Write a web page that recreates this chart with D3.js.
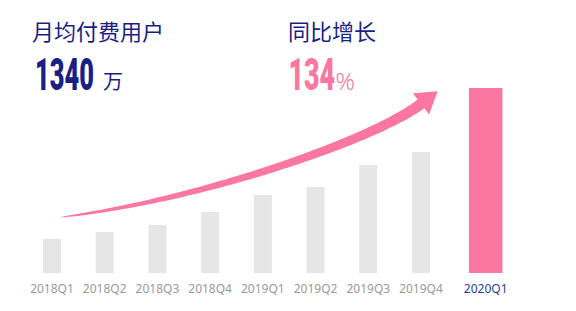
<!DOCTYPE html>
<html><head><meta charset="utf-8">
<script src="https://cdn.jsdelivr.net/npm/d3@7/dist/d3.min.js"></script>
<style>html,body{margin:0;padding:0;background:#fff;}svg{display:block;}</style>
</head><body>
<svg id="chart" width="576" height="311"></svg>
<script>
const categories = ["2018Q1","2018Q2","2018Q3","2018Q4","2019Q1","2019Q2","2019Q3","2019Q4","2020Q1"];
const values = [246, 297, 348, 442, 565, 623, 782, 877, 1340];
const highlightCategory = "2020Q1";
const titleLeft = "月均付费用户", valueLeft = "1340", unitLeft = "万";
const titleRight = "同比增长", valueRight = "134", unitRight = "%";

const navy = "#1a1f86", pink = "#fb76a0", gray = "#e6e6e6";
const svg = d3.select("#chart");
const cjk = "'Noto Sans CJK SC','Noto Sans',sans-serif";

const baseY = 273, topY = 88;
const y = d3.scaleLinear().domain([0, 1340]).range([baseY, topY]);
const xIdx = d3.scaleLinear().domain([0, 7]).range([52, 421]);
const xc = (d, i) => d === highlightCategory ? xIdx(i) + 12 : xIdx(i);
const bw = d => d === highlightCategory ? 33.5 : 18;

const data = categories.map((c, i) => ({c, v: values[i], i}));

svg.selectAll("rect.bar").data(data).join("rect")
  .attr("class","bar")
  .attr("x", d => xc(d.c, d.i) - bw(d.c)/2)
  .attr("width", d => bw(d.c))
  .attr("y", d => y(d.v))
  .attr("height", d => baseY - y(d.v))
  .attr("fill", d => d.c === highlightCategory ? pink : gray);

svg.selectAll("text.lab").data(data).join("text")
  .attr("class","lab")
  .attr("x", d => xc(d.c, d.i))
  .attr("y", 292.5)
  .attr("text-anchor","middle")
  .attr("font-family", "'Noto Sans',sans-serif")
  .attr("font-size", 12)
  .attr("fill", d => d.c === highlightCategory ? "#1f3f9c" : "#9a9a9a")
  .text(d => d.c);

// Arrow (decorative tapered curve)
const P0=[60,217.3], C1=[200,200.2], C2=[374.2,139.8], P3=[421.8,103.3];
function bez(t){
  const a=(1-t)**3, b=3*(1-t)**2*t, c=3*(1-t)*t*t, e=t**3;
  return [a*P0[0]+b*C1[0]+c*C2[0]+e*P3[0], a*P0[1]+b*C1[1]+c*C2[1]+e*P3[1]];
}
function der(t){
  const a=-3*(1-t)**2, b=3*(1-t)**2-6*(1-t)*t, c=6*(1-t)*t-3*t*t, e=3*t*t;
  return [a*P0[0]+b*C1[0]+c*C2[0]+e*P3[0], a*P0[1]+b*C1[1]+c*C2[1]+e*P3[1]];
}
const up=[], dn=[];
for (let k=0;k<=100;k++){
  const t=k/100, p=bez(t), d=der(t), L=Math.hypot(d[0],d[1]);
  const n=[-d[1]/L, d[0]/L], w=11*Math.pow(t,0.55)/2;
  up.push([p[0]+n[0]*w, p[1]+n[1]*w]);
  dn.push([p[0]-n[0]*w, p[1]-n[1]*w]);
}
const shaft = up.concat(dn.reverse());
svg.append("path").attr("d", d3.line()(shaft)+"Z").attr("fill", pink);
const dE=der(1), LE=Math.hypot(dE[0],dE[1]), u=[dE[0]/LE,dE[1]/LE], nn=[-u[1],u[0]];
const B=[P3[0]-u[0]*1,P3[1]-u[1]*1];
const head=[[B[0]+u[0]*21,B[1]+u[1]*21],[B[0]+nn[0]*13.3,B[1]+nn[1]*13.3],[B[0]-nn[0]*13.3,B[1]-nn[1]*13.3]];
svg.append("path").attr("d", d3.line()(head)+"Z").attr("fill", pink);

// Headline texts
svg.append("text").attr("x",32).attr("y",40).attr("font-family",cjk).attr("font-size",22).attr("fill",navy).text(titleLeft);
svg.append("text").attr("x",288).attr("y",40).attr("font-family",cjk).attr("font-size",22).attr("fill",navy).text(titleRight);

svg.append("text").attr("transform","translate(35,90) scale(0.565,1)")
  .attr("font-family","Roboto,'DejaVu Sans',sans-serif")
  .attr("font-weight",900).attr("font-size",45)
  .attr("fill",navy).text(valueLeft);
svg.append("text").attr("x",103).attr("y",89).attr("font-family",cjk).attr("font-size",20).attr("fill",navy).text(unitLeft);

svg.append("text").attr("transform","translate(288.5,90) scale(0.595,1)")
  .attr("font-family","Roboto,'DejaVu Sans',sans-serif")
  .attr("font-weight",900).attr("font-size",45)
  .attr("fill",pink).text(valueRight);
svg.append("text").attr("x",335.5).attr("y",90).attr("font-family","'Noto Sans',sans-serif").attr("font-weight",300)
  .attr("font-size",24).attr("fill",pink).text(unitRight);
</script>
</body></html>
